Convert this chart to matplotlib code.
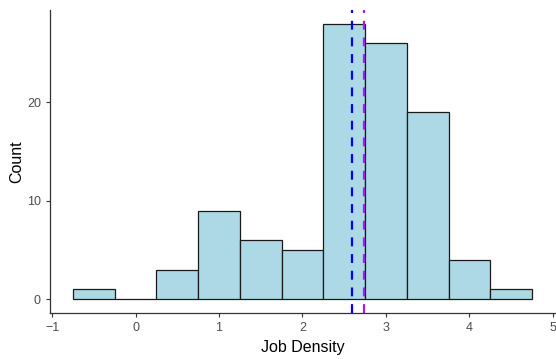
import numpy as np
import matplotlib.pyplot as plt

# histogram of job density, binwidth 0.5
bin_edges = [-0.75, -0.25, 0.25, 0.75, 1.25, 1.75, 2.25, 2.75, 3.25, 3.75, 4.25, 4.75]
counts = [1, 0, 3, 9, 6, 5, 28, 26, 19, 4, 1]
mean_density = 2.59
median_density = 2.74

plt.rcParams['font.family'] = ['Liberation Sans', 'DejaVu Sans']

fig = plt.figure(figsize=(5.56, 3.59), dpi=100)
ax = fig.add_axes([50/556, 46/359, 505/556, 303/359])

left = np.array(bin_edges[:-1])
width = np.diff(bin_edges)
ax.bar(left, counts, width=width, align='edge', color='#ADD8E6',
       edgecolor='#1a1a1a', linewidth=0.9)

ax.axvline(mean_density, color='#0000FF', linestyle=(0, (4, 3.5)), linewidth=1.6)
ax.axvline(median_density, color='#A020F0', linestyle=(0, (4, 3.5)), linewidth=1.6)

ax.set_xlim(-1.025, 5.025)
ax.set_ylim(-1.4, 29.4)
ax.set_xticks([-1, 0, 1, 2, 3, 4, 5])
ax.set_yticks([0, 10, 20])

for s in ['top', 'right']:
    ax.spines[s].set_visible(False)
for s in ['left', 'bottom']:
    ax.spines[s].set_color('#333333')
    ax.spines[s].set_linewidth(0.9)
ax.tick_params(colors='#333333', labelcolor='#4D4D4D', labelsize=9,
               length=3, width=0.8)

ax.set_xlabel('Job Density', fontsize=11.5, color='black', labelpad=4)
ax.set_ylabel('Count', fontsize=11.5, color='black', labelpad=2)

fig.savefig('out.png', dpi=100)
